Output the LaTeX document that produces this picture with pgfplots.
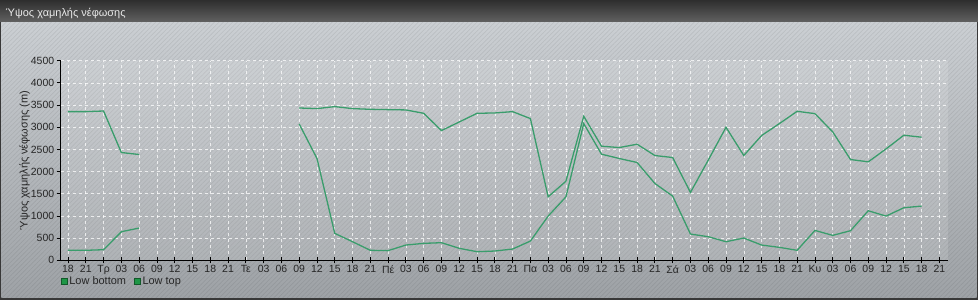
\documentclass[border=0pt]{standalone}
\usepackage{pgfplots}
\pgfplotsset{compat=1.18}
\usetikzlibrary{patterns.meta}
\usepackage{fontspec}
\setmainfont{Liberation Sans}
\definecolor{linegreen}{RGB}{58,157,108}
\definecolor{legsq}{RGB}{30,150,70}
\definecolor{paneltop}{RGB}{203,207,211}
\definecolor{panelbot}{RGB}{158,162,166}
\begin{document}
\begin{tikzpicture}[x=1bp,y=1bp]
\useasboundingbox (0,0) rectangle (978,300);
\fill[black!78] (0,0) rectangle (978,300);
\shade[top color=paneltop, bottom color=panelbot] (1.5,2.5) rectangle (976.5,278);
\fill[pattern={Lines[angle=45,distance=3.2bp,line width=0.7bp]}, pattern color=black, opacity=0.07] (1.5,2.5) rectangle (976.5,278);
\shade[top color=black!82, bottom color=black!62] (0,278) rectangle (978,300);
\node[anchor=base west, text=white!92!black, font=\fontsize{11}{13}\selectfont, inner sep=0] at (5.5,283.5) {Ύψος χαμηλής νέφωσης};
\begin{axis}[
  at={(60.7bp,39.7bp)}, anchor=south west,
  scale only axis, width=887.6bp, height=199.6bp,
  xmin=-0.41, xmax=49.5, ymin=0, ymax=4500,
  axis lines=left, axis line style={-, black, line width=0.9bp},
  axis background/.style={fill=white, fill opacity=0.13},
  xtick={0,...,49},
  xticklabels={18,21,Τρ,03,06,09,12,15,18,21,Τε,03,06,09,12,15,18,21,Πέ,03,06,09,12,15,18,21,Πα,03,06,09,12,15,18,21,Σά,03,06,09,12,15,18,21,Κυ,03,06,09,12,15,18,21},
  ytick={0,500,...,4500},
  grid=major, grid style={white, opacity=0.75, line width=0.6bp, dash pattern=on 3bp off 3bp},
  ytick align=outside, xtick align=center,
  major tick length=4bp,
  xtick style={black, line width=0.8bp, /pgfplots/major tick length=6bp},
  ytick style={black, line width=0.8bp},
  tick label style={font=\fontsize{10.5}{12}\selectfont, text=black!85},
  /pgf/number format/assume math mode=true,
  /pgf/number format/1000 sep={},
  yticklabel style={xshift=1bp},
  xticklabel style={yshift=0.5bp},
  ylabel={Ύψος χαμηλής νέφωσης (m)},
  ylabel style={font=\fontsize{11}{13}\selectfont, text=black!85, at={(axis description cs:-0.0405,0.5)}, anchor=center},
  unbounded coords=jump,
  legend style={at={(rel axis cs:0,0)}, anchor=west, xshift=0bp, yshift=-20.7bp, draw=none, fill=none, inner sep=0pt, font=\fontsize{11}{13}\selectfont, text=black!85, legend columns=-1, /tikz/every even column/.style={column sep=6bp}},
  legend image code/.code={\filldraw[draw=legsq!60!black, fill=legsq, line width=0.5bp] (0bp,-3bp) rectangle (6bp,3bp);},
]
\addplot[linegreen, line width=1.3bp] coordinates {
(0,225)(1,225)(2,239)(3,644)(4,727)(5,nan)
(13,3074)(14,2295)(15,607)(16,419)(17,225)(18,218)(19,344)(20,382)(21,397)(22,270)(23,194)(24,209)(25,254)(26,434)(27,997)(28,1431)(29,3082)(30,2392)(31,2295)(32,2205)(33,1732)(34,1447)(35,592)(36,532)(37,419)(38,502)(39,344)(40,292)(41,225)(42,674)(43,562)(44,667)(45,1117)(46,997)(47,1185)(48,1222)
};
\addlegendentry{Low bottom}
\addplot[linegreen, line width=1.3bp] coordinates {
(0,3352)(1,3352)(2,3366)(3,2430)(4,2385)(5,nan)
(13,3434)(14,3420)(15,3465)(16,3420)(17,3404)(18,3397)(19,3390)(20,3314)(21,2925)(22,3119)(23,3314)(24,3322)(25,3352)(26,3195)(27,1431)(28,1784)(29,3247)(30,2572)(31,2542)(32,2617)(33,2362)(34,2317)(35,1530)(36,2257)(37,2999)(38,2362)(39,2812)(40,3082)(41,3359)(42,3307)(43,2895)(44,2272)(45,2220)(46,2512)(47,2820)(48,2775)
};
\addlegendentry{Low top}
\end{axis}
\end{tikzpicture}
\end{document}
